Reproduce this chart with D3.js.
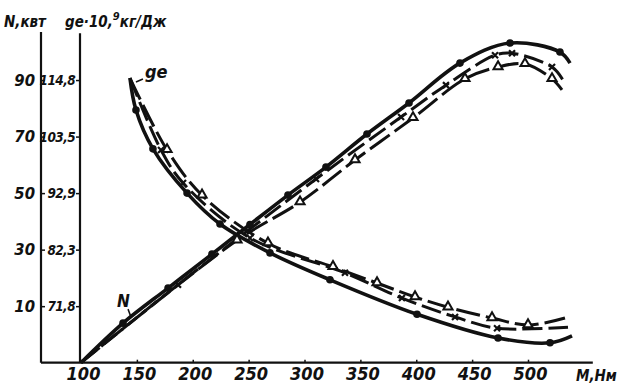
<!DOCTYPE html>
<html>
<head>
<meta charset="utf-8">
<script src="https://cdn.jsdelivr.net/npm/d3@7"></script>
<style>
  body { margin: 0; background: #fff; }
  svg text {
    font-family: "Liberation Sans Narrow", "DejaVu Sans", sans-serif;
    font-stretch: condensed;
    font-style: italic;
    font-weight: bold;
    fill: #111;
  }
</style>
</head>
<body>
<svg id="chart" width="618" height="388"></svg>
<script>
// tick values
const mTicks = [100, 150, 200, 250, 300, 350, 400, 450, 500];
const nTicks = [10, 30, 50, 70, 90];
const geTicks = [71.8, 82.3, 92.9, 103.5, 114.8];

// N (kW) against M (Nm): [M, N]
const nDots = [[100, -10], [137.6, 4.0], [177.9, 16.4], [217.2, 28.4], [251.2, 38.9], [285.2, 49.3],
  [319.2, 59.2], [355.9, 70.9], [393.5, 81.9], [439.1, 96.0], [483.9, 103.1], [528.6, 99.9], [537.6, 96.0]];
const nCross = [[100, -10], [186.8, 17.6], [310.3, 55.0], [386.4, 76.9], [426.6, 88.2], [470.5, 98.8],
  [485.7, 99.5], [521.5, 94.6], [531.3, 90.0]];
const nTri = [[100, -10], [239.6, 33.3], [296.0, 46.8], [345.2, 61.7], [397.1, 76.6], [443.6, 90.4],
  [473.2, 94.6], [497.3, 95.7], [521.5, 90.4], [530.4, 86.5]];

// ge*10^9 (kg/J) against M (Nm): [M, ge]
const geDots = [[143.8, 115.2], [149.2, 108.8], [164.4, 101.2], [194.9, 92.9], [224.4, 87.1], [269.1, 81.7],
  [322.8, 76.7], [400.7, 70.3], [473.2, 65.9], [519.7, 65.0], [539.4, 66.3]];
const geCross = [[143.8, 115.2], [171.6, 101.0], [191.3, 94.8], [251.2, 84.5], [336.2, 78.0], [387.2, 73.3],
  [434.7, 69.8], [472.3, 67.7], [535.8, 67.9]];
const geTri = [[143.8, 115.2], [177.0, 101.0], [208.3, 92.5], [267.3, 83.5], [325.5, 79.1], [364.9, 76.1],
  [398.9, 73.5], [428.4, 71.6], [467.8, 69.6], [500.0, 68.3], [533.1, 69.6]];

const svg = d3.select('#chart');
const ink = '#111';

const x = d3.scaleLinear().domain([100, 500]).range([81, 528]);
const yN = d3.scaleLinear().domain([-10, 107]).range([362.7, 32]);
// ge scale is printed unevenly, so tie it to the N tick positions
const yGe = d3.scaleLinear().domain(geTicks).range(nTicks.map(yN));

const nAxisX = 41;
const geAxisX = x(100) - 1;

// axis lines
svg.append('line')
  .attr('x1', nAxisX).attr('x2', x(558))
  .attr('y1', yN(-10)).attr('y2', yN(-10))
  .attr('stroke', ink).attr('stroke-width', 2.2);
svg.append('line')
  .attr('x1', nAxisX).attr('x2', nAxisX)
  .attr('y1', yN(-10)).attr('y2', yN(107))
  .attr('stroke', ink).attr('stroke-width', 2.2);
svg.append('line')
  .attr('x1', geAxisX).attr('x2', geAxisX)
  .attr('y1', yN(-10)).attr('y2', yN(106.6))
  .attr('stroke', ink).attr('stroke-width', 2.2);

const comma = d => String(d).replace('.', ',');

const gx = svg.append('g')
  .attr('transform', 'translate(0,' + yN(-10) + ')')
  .call(d3.axisBottom(x).tickValues(mTicks).tickSizeInner(-3).tickSizeOuter(0).tickPadding(5));
const gn = svg.append('g')
  .attr('transform', 'translate(' + nAxisX + ',0)')
  .call(d3.axisLeft(yN).tickValues(nTicks).tickSizeInner(-4).tickSizeOuter(0).tickPadding(6));
const gge = svg.append('g')
  .attr('transform', 'translate(' + geAxisX + ',0)')
  .call(d3.axisLeft(yGe).tickValues(geTicks).tickFormat(comma).tickSizeInner(4).tickSizeOuter(0).tickPadding(1));

[gx, gn, gge].forEach(g => {
  g.select('.domain').remove();
  g.attr('color', ink);
  g.selectAll('.tick line').attr('stroke-width', 1.5);
});
gx.selectAll('text').style('font-size', '18px').attr('dx', 2);
gn.selectAll('text').style('font-size', '16.5px');
gge.selectAll('text').style('font-size', '13.5px').style('letter-spacing', '-0.6px').attr('dy', '0.34em');

// axis titles
svg.append('text').attr('x', 4).attr('y', 27).style('font-size', '15px').text('N,квт');
const geTitle = svg.append('text').attr('x', 65).attr('y', 27).style('font-size', '15px');
geTitle.append('tspan').text('ge·10,');
geTitle.append('tspan').attr('dy', -7).style('font-size', '11px').text('9');
geTitle.append('tspan').attr('dy', 7).text('кг/Дж');
svg.append('text').attr('x', 576).attr('y', 381).style('font-size', '15px').text('М,Нм');

// curves
const lineN = d3.line().x(d => x(d[0])).y(d => yN(d[1])).curve(d3.curveCatmullRom.alpha(0.5));
const lineGe = d3.line().x(d => x(d[0])).y(d => yGe(d[1])).curve(d3.curveCatmullRom.alpha(0.5));

function drawCurve(data, gen, dash, width) {
  svg.append('path')
    .datum(data)
    .attr('fill', 'none')
    .attr('stroke', ink)
    .attr('stroke-width', width)
    .attr('stroke-dasharray', dash)
    .attr('d', gen);
}

function drawMarkers(data, yScale, kind) {
  const g = svg.append('g');
  data.slice(1, -1).forEach(d => {
    const px = x(d[0]), py = yScale(d[1]);
    if (kind === 'dot') {
      g.append('circle').attr('cx', px).attr('cy', py).attr('r', 3.8).attr('fill', ink);
    } else if (kind === 'cross') {
      g.append('path')
        .attr('d', 'M' + (px - 3) + ',' + (py - 3) + 'L' + (px + 3) + ',' + (py + 3) +
                   'M' + (px + 3) + ',' + (py - 3) + 'L' + (px - 3) + ',' + (py + 3))
        .attr('stroke', ink).attr('stroke-width', 2.2);
    } else {
      g.append('path')
        .attr('d', d3.symbol(d3.symbolTriangle, 36)())
        .attr('transform', 'translate(' + px + ',' + (py - 0.5) + ')')
        .attr('fill', '#fff').attr('stroke', ink).attr('stroke-width', 2);
    }
  });
}

drawCurve(nTri, lineN, '24,6', 3);
drawCurve(nCross, lineN, '20,6', 3);
drawCurve(nDots, lineN, null, 3.6);
drawCurve(geTri, lineGe, '24,6', 3);
drawCurve(geCross, lineGe, '20,6', 3);
drawCurve(geDots, lineGe, null, 3.6);

drawMarkers(nDots, yN, 'dot');
drawMarkers(nCross, yN, 'cross');
drawMarkers(nTri, yN, 'tri');
drawMarkers(geDots, yGe, 'dot');
drawMarkers(geCross, yGe, 'cross');
drawMarkers(geTri, yGe, 'tri');

// curve labels with leaders
const gp = [x(geDots[0][0]), yGe(geDots[0][1])];
svg.append('line')
  .attr('x1', gp[0] + 6).attr('y1', gp[1] + 4).attr('x2', gp[0] + 13).attr('y2', gp[1] + 1)
  .attr('stroke', ink).attr('stroke-width', 1.5);
svg.append('text').attr('x', gp[0] + 15).attr('y', gp[1]).style('font-size', '18px').text('ge');

const np = [x(nDots[1][0]), yN(nDots[1][1])];
svg.append('line')
  .attr('x1', np[0] + 8).attr('y1', np[1] - 6).attr('x2', np[0] + 5).attr('y2', np[1] - 14)
  .attr('stroke', ink).attr('stroke-width', 1.5);
svg.append('text').attr('x', np[0] - 6).attr('y', np[1] - 16).style('font-size', '17px').text('N');
</script>
</body>
</html>
